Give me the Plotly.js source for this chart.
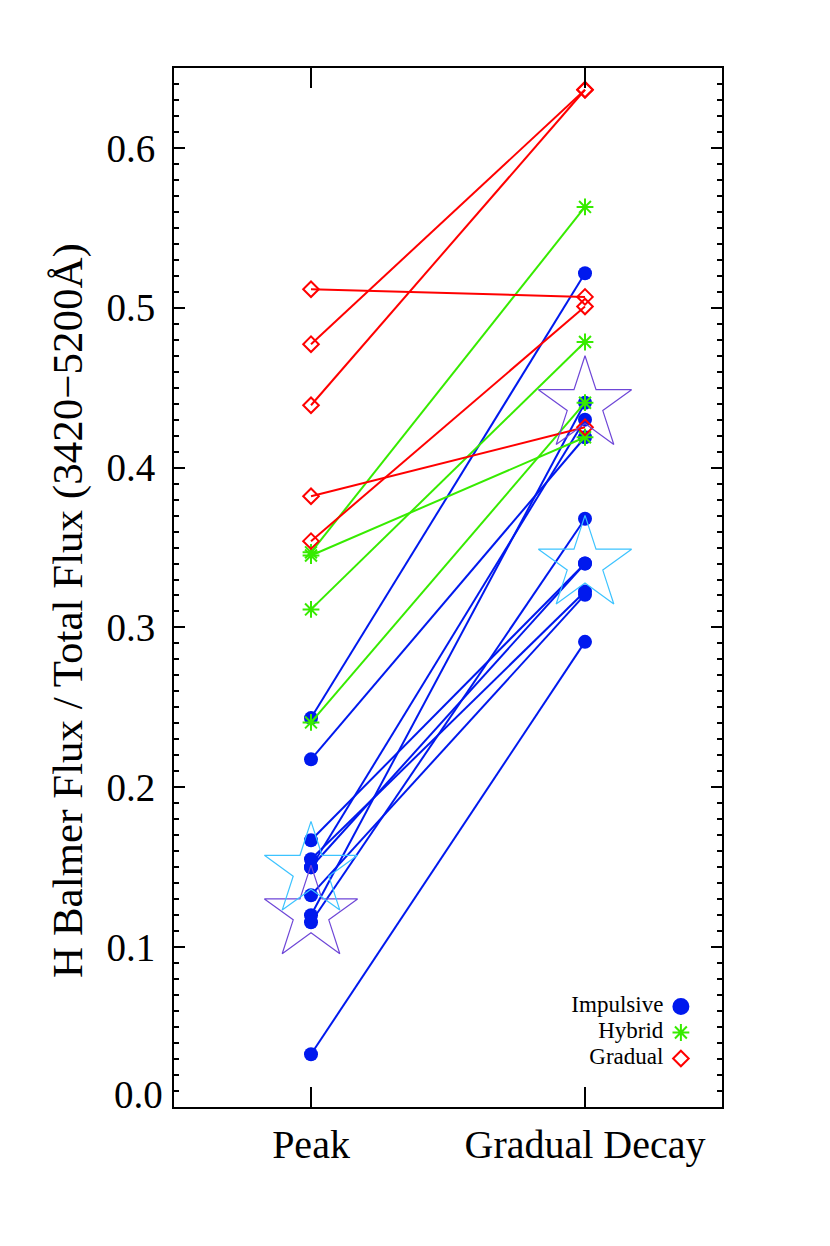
<!DOCTYPE html>
<html>
<head>
<meta charset="utf-8">
<script src="https://cdn.plot.ly/plotly-3.0.1.min.js"></script>
<style>html,body{margin:0;padding:0;background:#fff;}</style>
</head>
<body>
<div id="chart" style="width:830px;height:1246px;"></div>
<script>
// Categories (x positions 0 and 1)
const categories = ["Peak", "Gradual Decay"];

// Impulsive flares: ratio at peak and in gradual decay
const impulsivePeak  = [0.2433, 0.2175, 0.1669, 0.1550, 0.1500, 0.1500, 0.1325, 0.1200, 0.1156, 0.0330];
const impulsiveDecay = [0.5216, 0.4190, 0.3400, 0.3225, 0.4300, 0.3400, 0.3205, 0.4406, 0.3680, 0.2910];

// Hybrid flares
const hybridPeak  = [0.3470, 0.3450, 0.3113, 0.2406];
const hybridDecay = [0.5631, 0.4190, 0.4786, 0.4406];

// Gradual flares
const gradualPeak  = [0.5116, 0.4772, 0.4390, 0.3821, 0.3540];
const gradualDecay = [0.5068, 0.6364, 0.6364, 0.4252, 0.5008];

// Average markers (large stars)
const starPurple = [0.1207, 0.4393];
const starCyan   = [0.1480, 0.3395];

// Legend entries
const legendNames = ["Impulsive", "Hybrid", "Gradual"];

const BLUE = "rgb(0,25,238)";
const GREEN = "rgb(55,235,0)";
const RED = "rgb(255,0,0)";
const PURPLE = "rgb(110,70,215)";
const CYAN = "rgb(60,195,255)";
const FONT = "Liberation Serif, Times New Roman, serif";

function pairs(peak, decay) {
  const x = [], y = [];
  for (let i = 0; i < peak.length; i++) {
    x.push(0, 1, null);
    y.push(peak[i], decay[i], null);
  }
  return {x, y};
}

const imp = pairs(impulsivePeak, impulsiveDecay);
const hyb = pairs(hybridPeak, hybridDecay);
const gra = pairs(gradualPeak, gradualDecay);

// legend key placement on an overlaid unit axis
const keyX = 0.925, keyTextX = 0.893;
const keyY = [0.0967, 0.0717, 0.0467];

const traces = [
  {x: imp.x, y: imp.y, mode: "lines+markers", connectgaps: false,
   line: {color: BLUE, width: 2},
   marker: {symbol: "circle", size: 14, color: BLUE}, showlegend: false},
  {x: hyb.x, y: hyb.y, mode: "lines+markers", connectgaps: false,
   line: {color: GREEN, width: 2},
   marker: {symbol: "asterisk-open", size: 14, color: GREEN, line: {color: GREEN, width: 2}}, showlegend: false},
  {x: gra.x, y: gra.y, mode: "lines+markers", connectgaps: false,
   line: {color: RED, width: 2},
   marker: {symbol: "diamond-open", size: 12, color: RED, line: {color: RED, width: 2}}, showlegend: false},
  {x: [0, 1], y: starPurple, mode: "markers",
   marker: {symbol: "star-open", size: 70, color: PURPLE, line: {color: PURPLE, width: 1.2}}, showlegend: false},
  {x: [0, 1], y: starCyan, mode: "markers",
   marker: {symbol: "star-open", size: 70, color: CYAN, line: {color: CYAN, width: 1.2}}, showlegend: false},
  {x: [keyX, keyX, keyX], y: keyY, xaxis: "x2", yaxis: "y2", mode: "markers",
   marker: {symbol: ["circle", "asterisk-open", "diamond-open"], size: [15, 14, 12], opacity: 1,
            color: [BLUE, GREEN, RED], line: {color: [BLUE, GREEN, RED], width: 2}},
   showlegend: false, cliponaxis: false},
  {x: [keyTextX, keyTextX, keyTextX], y: keyY, xaxis: "x2", yaxis: "y2", mode: "text",
   text: legendNames, textposition: "middle left",
   textfont: {family: FONT, size: 23, color: "black"},
   showlegend: false, cliponaxis: false}
];

const layout = {
  width: 830, height: 1246,
  margin: {l: 174, r: 108, t: 68, b: 139},
  paper_bgcolor: "white", plot_bgcolor: "white",
  showlegend: false,
  font: {family: FONT, color: "black"},
  xaxis: {
    range: [-0.5, 1.5], tickvals: [0, 1], ticktext: categories,
    ticks: "inside", ticklen: 20, tickwidth: 2, tickcolor: "black",
    showline: true, linewidth: 2, linecolor: "black", mirror: "ticks",
    showgrid: false, zeroline: false,
    tickfont: {family: FONT, size: 40, color: "black"}, ticklabelstandoff: 1
  },
  yaxis: {
    range: [0, 0.65], tickvals: [0, 0.1, 0.2, 0.3, 0.4, 0.5, 0.6],
    ticktext: ["", "0.1", "0.2", "0.3", "0.4", "0.5", "0.6"],
    ticks: "inside", ticklen: 11, tickwidth: 2, tickcolor: "black",
    minor: {dtick: 0.01, tick0: 0, ticks: "inside", ticklen: 5, tickwidth: 2, tickcolor: "black", showgrid: false},
    showline: true, linewidth: 2, linecolor: "black", mirror: "ticks",
    showgrid: false, zeroline: false,
    tickfont: {family: FONT, size: 39, color: "black"}, ticklabelstandoff: 9
  },
  xaxis2: {overlaying: "x", range: [0, 1], visible: false, fixedrange: true},
  yaxis2: {overlaying: "y", range: [0, 1], visible: false, fixedrange: true},
  annotations: [
    {xref: "paper", yref: "y", x: 0, y: 0, text: "0.0", showarrow: false,
     xanchor: "right", yanchor: "middle", xshift: -9, yshift: 13,
     font: {family: FONT, size: 39, color: "black"}},
    {xref: "paper", yref: "paper", x: -0.1934, y: 0.4775, xanchor: "center", yanchor: "middle",
     text: "H Balmer Flux / Total Flux (3420\u22125200\u00C5)", textangle: -90, showarrow: false,
     font: {family: FONT, size: 43, color: "black"}}
  ]
};

Plotly.newPlot("chart", traces, layout, {displayModeBar: false, staticPlot: true});
</script>
</body>
</html>
